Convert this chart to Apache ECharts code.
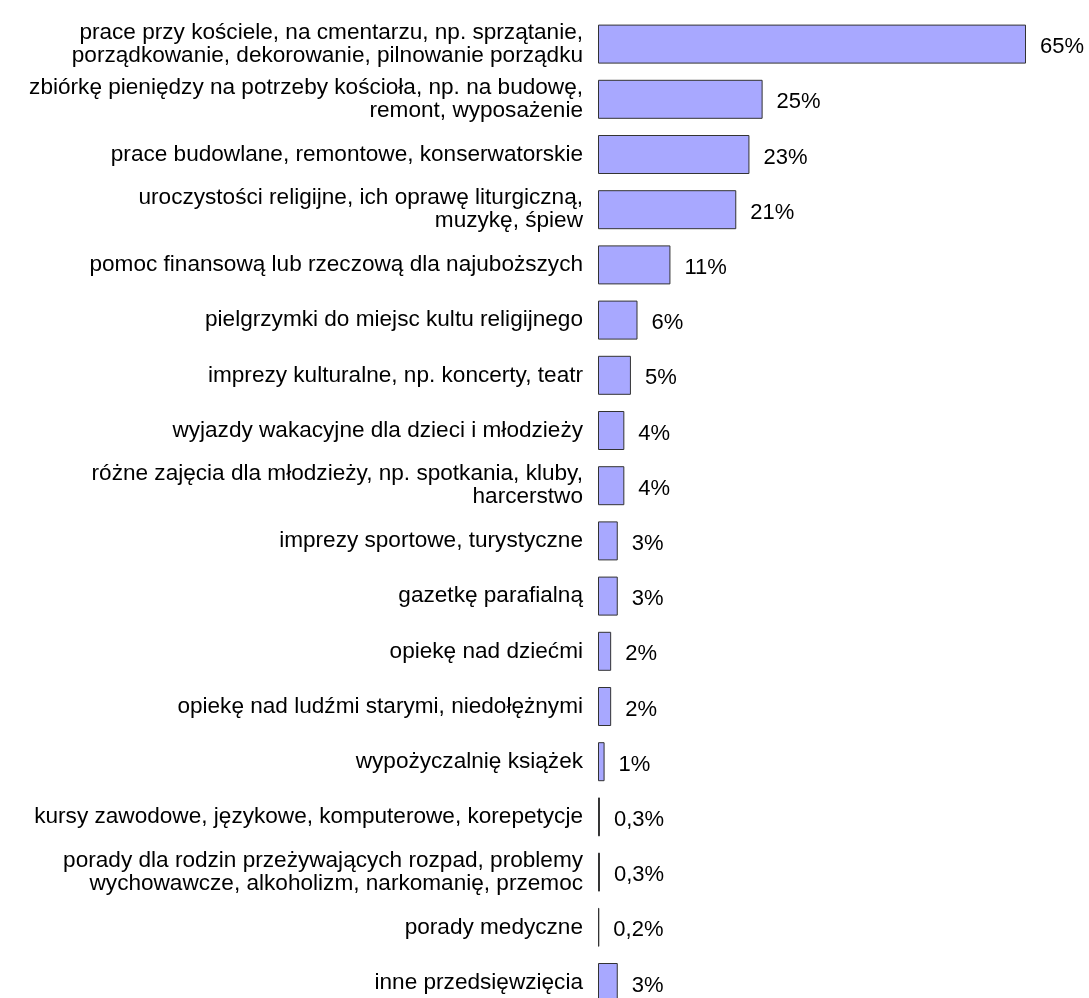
<!DOCTYPE html>
<html>
<head>
<meta charset="utf-8">
<script src="https://cdn.jsdelivr.net/npm/echarts@6/dist/echarts.min.js"></script>
<style>html,body{margin:0;padding:0;background:#fff;overflow:hidden;}#c{width:1089px;height:1011px;}</style>
</head>
<body>
<div id="c"></div>
<script>
const categories = [
  "prace przy kościele, na cmentarzu, np. sprzątanie,\nporządkowanie, dekorowanie, pilnowanie porządku",
  "zbiórkę pieniędzy na potrzeby kościoła, np. na budowę,\nremont, wyposażenie",
  "prace budowlane, remontowe, konserwatorskie",
  "uroczystości religijne, ich oprawę liturgiczną,\nmuzykę, śpiew",
  "pomoc finansową lub rzeczową dla najuboższych",
  "pielgrzymki do miejsc kultu religijnego",
  "imprezy kulturalne, np. koncerty, teatr",
  "wyjazdy wakacyjne dla dzieci i młodzieży",
  "różne zajęcia dla młodzieży, np. spotkania, kluby,\nharcerstwo",
  "imprezy sportowe, turystyczne",
  "gazetkę parafialną",
  "opiekę nad dziećmi",
  "opiekę nad ludźmi starymi, niedołężnymi",
  "wypożyczalnię książek",
  "kursy zawodowe, językowe, komputerowe, korepetycje",
  "porady dla rodzin przeżywających rozpad, problemy\nwychowawcze, alkoholizm, narkomanię, przemoc",
  "porady medyczne",
  "inne przedsięwzięcia"
];
const values = [65, 25, 23, 21, 11, 6, 5, 4, 4, 3, 3, 2, 2, 1, 0.3, 0.3, 0.2, 3];

const chart = echarts.init(document.getElementById('c'));
chart.setOption({
  animation: false,
  grid: { left: 598, top: 16.5, width: 428, height: 993.6, containLabel: false },
  xAxis: { type: 'value', min: 0, max: 65, show: false },
  yAxis: {
    type: 'category', data: categories, inverse: true,
    axisLine: { show: false }, axisTick: { show: false },
    axisLabel: { margin: 15, color: '#000', fontFamily: 'Liberation Sans, Arial, sans-serif', fontSize: 22.6, lineHeight: 23, align: 'right', padding: [5, 0, 0, 0] }
  },
  series: [{
    type: 'bar', data: values, barWidth: 39,
    itemStyle: { color: '#a8a8ff', borderColor: '#333333', borderWidth: 1 },
    label: {
      show: true, position: 'right', distance: 14, offset: [0, 3], color: '#000',
      fontFamily: 'Liberation Sans, Arial, sans-serif', fontSize: 22,
      formatter: p => String(p.value).replace('.', ',') + '%'
    }
  }]
});
</script>
</body>
</html>
